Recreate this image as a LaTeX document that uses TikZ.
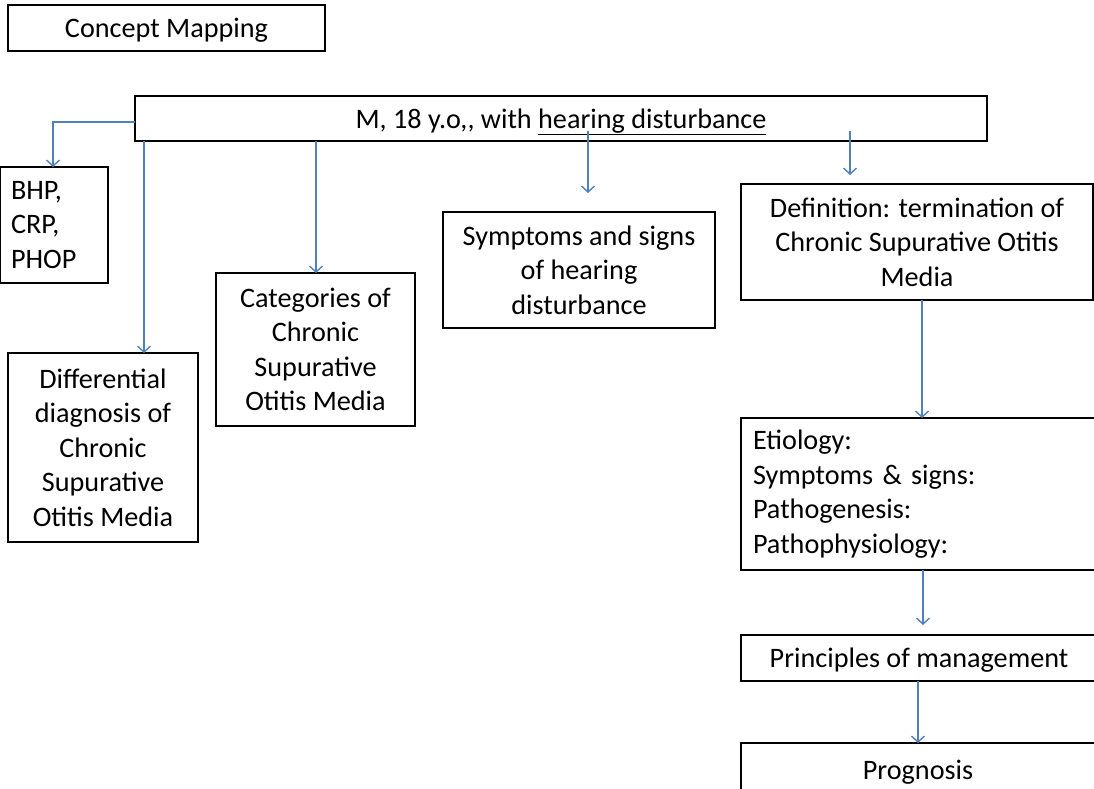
\documentclass[tikz,border=0pt]{standalone}
\usepackage{fontspec}
\setmainfont{Carlito}
\usetikzlibrary{arrows.meta}
\definecolor{arrowblue}{RGB}{79,129,189}
\tikzset{
  box/.style={draw=black, line width=1.5pt, inner sep=0pt, outer sep=0pt, anchor=north west, align=center,
    font=\fontsize{28.2}{34.5}\selectfont},
  cbox/.style={box, text depth=0pt},
  conn/.style={draw=arrowblue, line width=1.4pt, -{Straight Barb[length=6pt,width=13pt,line width=1.4pt]}},
}
\begin{document}
\begin{tikzpicture}[x=1pt,y=-1pt]
\useasboundingbox (0,0) rectangle (1094,788);
\clip (0,0) rectangle (1094,788);
% boxes
\node[cbox, minimum width=317, minimum height=46] (title) at (8,5) {Concept Mapping};
\node[cbox, minimum width=852, minimum height=45] (main) at (135,96) {M, 18 y.o,{},{} with \underline{hearing disturbance}};
\node[box, minimum width=108, minimum height=116, align=left, text width=86, inner xsep=11] (bhp) at (0,167) {BHP,\\CRP,\\PHOP};
\node[cbox, minimum width=190, minimum height=189] (diff) at (8,353) {Differential\\diagnosis of\\Chronic\\Supurative\\Otitis Media};
\node[cbox, minimum width=199, minimum height=153] (cat) at (216,273) {Categories of\\Chronic\\Supurative\\Otitis Media};
\node[cbox, minimum width=272, minimum height=116] (sym) at (443,212) {Symptoms and signs\\of hearing\\disturbance};
\node[cbox, minimum width=352, minimum height=116] (def) at (741,184) {Definition: termination of\\Chronic Supurative Otitis\\Media};
\node[box, minimum width=370, minimum height=152, align=left, text width=346, inner xsep=7.5] (eti) at (741,418) {Etiology:\\Symptoms \& signs:\\Pathogenesis:\\Pathophysiology:};
\node[cbox, minimum width=356, minimum height=46] (man) at (741,635) {Principles of management};
\node[box, minimum width=356, minimum height=92] (prog) at (741,743) {};
\node[font=\fontsize{28.2}{34.5}\selectfont, anchor=base] (progtext) at (918,779) {Prognosis};
% connector helper coordinates
\coordinate (bend) at (53,122);
\coordinate (s1) at (588,131);
\coordinate (e1) at (588,193);
\coordinate (s2) at (850,131);
\coordinate (e2) at (850,175);
\coordinate (e3) at (923,625);
% connectors
\draw[conn] (main.west |- bend) -- (bend) -- (bhp.north -| bend);
\draw[conn] (main.south -| 144,0) -- (diff.north -| 144,0);
\draw[conn] (main.south -| 316,0) -- (cat.north -| 316,0);
\draw[conn] (s1) -- (e1);
\draw[conn] (s2) -- (e2);
\draw[conn] (def.south -| 922,0) -- (eti.north -| 922,0);
\draw[conn] (eti.south -| 923,0) -- (e3);
\draw[conn] (man.south -| 918,0) -- (prog.north -| 918,0);
\end{tikzpicture}
\end{document}
